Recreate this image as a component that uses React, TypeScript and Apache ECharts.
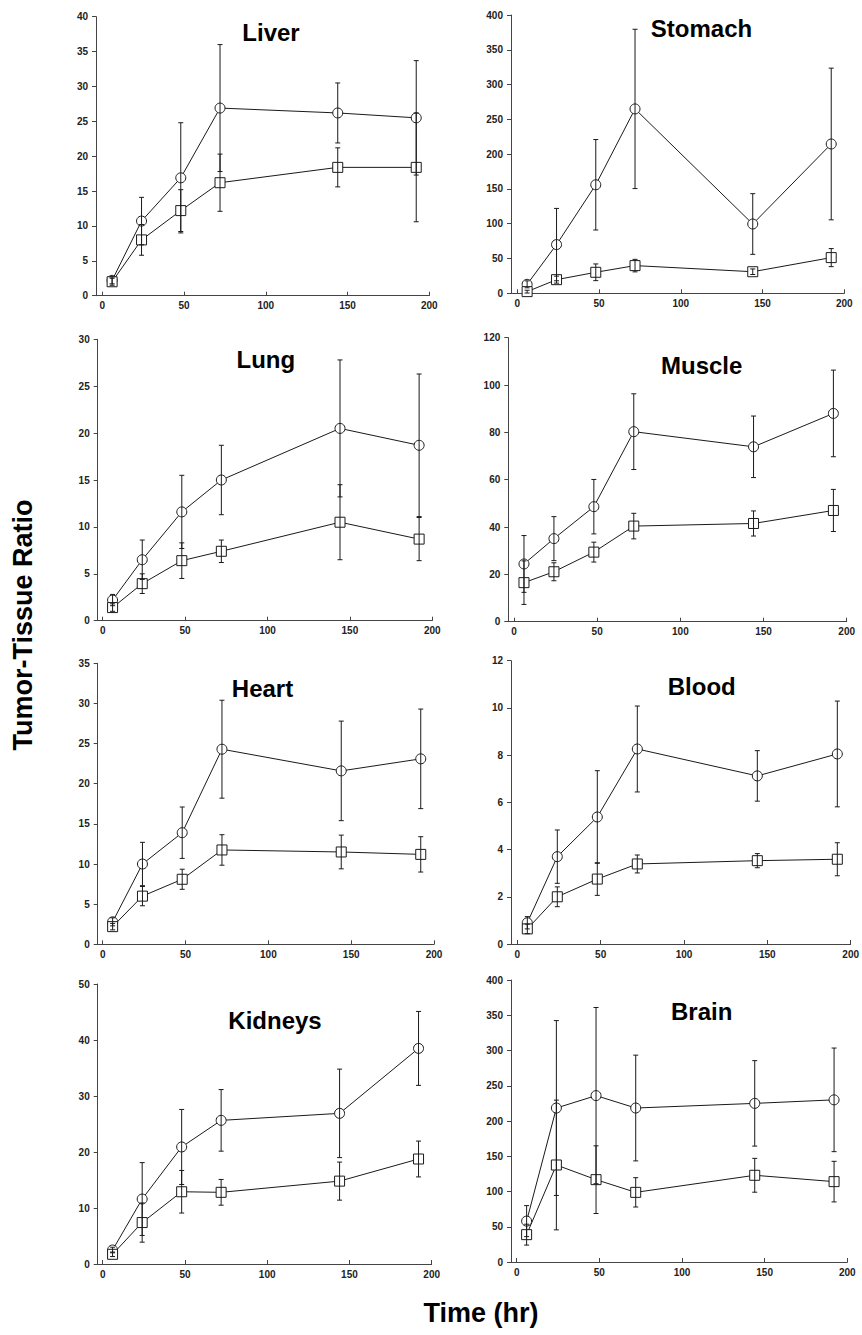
import React, { useEffect, useRef } from "react";
import * as echarts from "echarts";

// ---- data ----
const times = [6, 24, 48, 72, 144, 192];
const xTickValues = [0, 50, 100, 150, 200];

const liverCircle = [2.2, 10.7, 16.9, 26.9, 26.2, 25.5];
const liverCircleErr = [0.5, 3.4, 7.9, 9.1, 4.3, 8.2];
const liverSquare = [2.0, 8.0, 12.2, 16.2, 18.4, 18.4];
const liverSquareErr = [0.5, 2.2, 3.0, 4.1, 2.8, 7.8];

const stomachCircle = [12.9, 70, 156, 265, 99.6, 214.6];
const stomachCircleErr = [5, 52, 65, 114.5, 43.6, 109];
const stomachSquare = [2.4, 19.6, 30.2, 39.8, 31, 51.3];
const stomachSquareErr = [2, 5, 12, 9, 4, 13];

const lungCircle = [2.2, 6.5, 11.6, 15.0, 20.5, 18.7];
const lungCircleErr = [0.6, 2.1, 3.9, 3.7, 7.3, 7.6];
const lungSquare = [1.4, 3.95, 6.4, 7.4, 10.5, 8.7];
const lungSquareErr = [0.4, 1.05, 1.9, 1.2, 4.0, 2.3];

const muscleCircle = [24.4, 35.1, 48.6, 80.3, 73.9, 88];
const muscleCircleErr = [12, 9.3, 11.5, 16, 13, 18.3];
const muscleSquare = [16.5, 21.1, 29.4, 40.4, 41.5, 47.0];
const muscleSquareErr = [9.2, 3.8, 4.2, 5.4, 5.3, 8.9];

const heartCircle = [2.8, 10.0, 13.9, 24.3, 21.6, 23.1];
const heartCircleErr = [0.5, 2.7, 3.2, 6.1, 6.2, 6.2];
const heartSquare = [2.2, 6.0, 8.1, 11.75, 11.5, 11.2];
const heartSquareErr = [0.4, 1.2, 1.25, 1.9, 2.1, 2.2];

const bloodCircle = [0.9, 3.7, 5.38, 8.26, 7.12, 8.05];
const bloodCircleErr = [0.26, 1.13, 1.96, 1.82, 1.07, 2.24];
const bloodSquare = [0.64, 2.0, 2.75, 3.39, 3.53, 3.59];
const bloodSquareErr = [0.2, 0.42, 0.69, 0.38, 0.3, 0.7];

const kidneysCircle = [2.5, 11.6, 20.9, 25.65, 26.9, 38.5];
const kidneysCircleErr = [0.5, 6.5, 6.7, 5.5, 7.9, 6.6];
const kidneysSquare = [1.73, 7.4, 12.9, 12.8, 14.8, 18.75];
const kidneysSquareErr = [0.4, 3.5, 3.8, 2.3, 3.4, 3.2];

const brainCircle = [58, 218.4, 236, 218.4, 225, 230];
const brainCircleErr = [22, 124, 125, 75, 60.6, 73.5];
const brainSquare = [38.8, 137.6, 116.8, 98.8, 123, 114];
const brainSquareErr = [14.8, 92, 48, 20.8, 24, 28.8];

const organNames = ["Liver", "Stomach", "Lung", "Muscle", "Heart", "Blood", "Kidneys", "Brain"];
const yMaxes = [40, 400, 30, 120, 35, 12, 50, 400];
const yIntervals = [5, 50, 5, 20, 5, 2, 10, 50];

const yAxisTitle = "Tumor-Tissue Ratio";
const xAxisTitle = "Time (hr)";

const circleData = [liverCircle, stomachCircle, lungCircle, muscleCircle, heartCircle, bloodCircle, kidneysCircle, brainCircle];
const circleErrData = [liverCircleErr, stomachCircleErr, lungCircleErr, muscleCircleErr, heartCircleErr, bloodCircleErr, kidneysCircleErr, brainCircleErr];
const squareData = [liverSquare, stomachSquare, lungSquare, muscleSquare, heartSquare, bloodSquare, kidneysSquare, brainSquare];
const squareErrData = [liverSquareErr, stomachSquareErr, lungSquareErr, muscleSquareErr, heartSquareErr, bloodSquareErr, kidneysSquareErr, brainSquareErr];

// ---- layout (pixels) ----
// axisX: y-axis line x; x0/x200: pixel of x=0 / x=200; yTop/yBot: pixel of y max / y=0
const layout = [
  { axisX: 96, x0: 102.3, x200: 429.3, yTop: 16.7, yBot: 295.7, tx: 271, ty: 32.5 },
  { axisX: 511, x0: 517.3, x200: 844.3, yTop: 15, yBot: 293.3, tx: 701.5, ty: 28.7 },
  { axisX: 97.7, x0: 102.7, x200: 432.3, yTop: 339.3, yBot: 620.7, tx: 265.8, ty: 359.2 },
  { axisX: 508.3, x0: 514, x200: 846.7, yTop: 337.7, yBot: 621.7, tx: 701.7, ty: 365 },
  { axisX: 97.7, x0: 102.7, x200: 434, yTop: 663.3, yBot: 944.3, tx: 262.5, ty: 688.3 },
  { axisX: 511, x0: 517.3, x200: 850.7, yTop: 660.7, yBot: 944, tx: 701.7, ty: 686.3 },
  { axisX: 97.7, x0: 102.7, x200: 431.7, yTop: 984, yBot: 1264, tx: 275, ty: 1020 },
  { axisX: 511, x0: 516.7, x200: 847.3, yTop: 980, yBot: 1262, tx: 701.7, ty: 1011.3 },
];

const FONT = "'Liberation Sans', Arial, Helvetica, sans-serif";
const AXIS_COLOR = "#444";
const LINE_COLOR = "#1a1a1a";

function errorBarRender(params: any, api: any) {
  const x = api.value(0);
  const y = api.value(1);
  const e = api.value(2);
  const top = api.coord([x, y + e]);
  const bot = api.coord([x, y - e]);
  const cap = 2.5;
  const style = { stroke: LINE_COLOR, lineWidth: 1 };
  return {
    type: "group",
    children: [
      { type: "line", shape: { x1: top[0], y1: top[1], x2: bot[0], y2: bot[1] }, style },
      { type: "line", shape: { x1: top[0] - cap, y1: top[1], x2: top[0] + cap, y2: top[1] }, style },
      { type: "line", shape: { x1: bot[0] - cap, y1: bot[1], x2: bot[0] + cap, y2: bot[1] }, style },
    ],
  };
}

function buildOption() {
  const grids: any[] = [];
  const xAxes: any[] = [];
  const yAxes: any[] = [];
  const series: any[] = [];
  const graphics: any[] = [];

  layout.forEach((L, i) => {
    const scale = (L.x200 - L.x0) / 200;
    const xmin = -(L.x0 - L.axisX) / scale;
    grids.push({
      left: L.axisX,
      top: L.yTop,
      width: L.x200 - L.axisX,
      height: L.yBot - L.yTop,
      containLabel: false,
    });
    xAxes.push({
      type: "value",
      gridIndex: i,
      min: xmin,
      max: 200,
      axisLine: { show: true, onZero: false, lineStyle: { color: AXIS_COLOR, width: 1 } },
      axisTick: { show: true, inside: true, length: 4, customValues: xTickValues, lineStyle: { color: AXIS_COLOR } },
      axisLabel: {
        show: true,
        customValues: xTickValues,
        margin: 5,
        fontSize: 10,
        fontWeight: "bold",
        fontFamily: FONT,
        color: "#222",
      },
      splitLine: { show: false },
    });
    yAxes.push({
      type: "value",
      gridIndex: i,
      min: 0,
      max: yMaxes[i],
      interval: yIntervals[i],
      axisLine: { show: true, onZero: false, lineStyle: { color: AXIS_COLOR, width: 1 } },
      axisTick: { show: true, inside: false, length: 4, lineStyle: { color: AXIS_COLOR } },
      axisLabel: {
        show: true,
        margin: 8,
        fontSize: 10,
        fontWeight: "bold",
        fontFamily: FONT,
        color: "#222",
      },
      splitLine: { show: false },
    });

    const lineCommon = {
      type: "line",
      xAxisIndex: i,
      yAxisIndex: i,
      showSymbol: true,
      symbolSize: 10,
      lineStyle: { color: LINE_COLOR, width: 1 },
      itemStyle: { color: "#ffffff", borderColor: LINE_COLOR, borderWidth: 1 },
      z: 2,
      clip: false,
    };
    series.push({
      ...lineCommon,
      name: organNames[i] + " circle",
      symbol: "circle",
      data: times.map((t, k) => [t, circleData[i][k]]),
    });
    series.push({
      ...lineCommon,
      name: organNames[i] + " square",
      symbol: "rect",
      data: times.map((t, k) => [t, squareData[i][k]]),
    });
    series.push({
      type: "custom",
      xAxisIndex: i,
      yAxisIndex: i,
      renderItem: errorBarRender,
      encode: { x: 0, y: 1 },
      clip: false,
      z: 3,
      data: times.map((t, k) => [t, circleData[i][k], circleErrData[i][k]]),
    });
    series.push({
      type: "custom",
      xAxisIndex: i,
      yAxisIndex: i,
      renderItem: errorBarRender,
      encode: { x: 0, y: 1 },
      clip: false,
      z: 3,
      data: times.map((t, k) => [t, squareData[i][k], squareErrData[i][k]]),
    });

    graphics.push({
      type: "text",
      x: L.tx,
      y: L.ty,
      style: {
        text: organNames[i],
        fontSize: 24,
        fontWeight: "bold",
        fontFamily: FONT,
        fill: "#000",
        textAlign: "center",
        textVerticalAlign: "middle",
      },
    });
  });

  graphics.push({
    type: "text",
    x: 23,
    y: 625,
    rotation: Math.PI / 2,
    style: {
      text: yAxisTitle,
      fontSize: 27,
      fontWeight: "bold",
      fontFamily: FONT,
      fill: "#000",
      textAlign: "center",
      textVerticalAlign: "middle",
    },
  });
  graphics.push({
    type: "text",
    x: 481,
    y: 1313,
    style: {
      text: xAxisTitle,
      fontSize: 27,
      fontWeight: "bold",
      fontFamily: FONT,
      fill: "#000",
      textAlign: "center",
      textVerticalAlign: "middle",
    },
  });

  return {
    animation: false,
    backgroundColor: "#ffffff",
    grid: grids,
    xAxis: xAxes,
    yAxis: yAxes,
    series,
    graphic: graphics,
  };
}

export default function App() {
  const ref = useRef<HTMLDivElement>(null);
  useEffect(() => {
    if (!ref.current) return;
    const chart = echarts.init(ref.current, null, { renderer: "svg" });
    chart.setOption(buildOption() as any);
    return () => chart.dispose();
  }, []);
  return (
    <div
      ref={ref}
      style={{ position: "absolute", left: 0, top: 0, width: 862, height: 1335 }}
    />
  );
}
